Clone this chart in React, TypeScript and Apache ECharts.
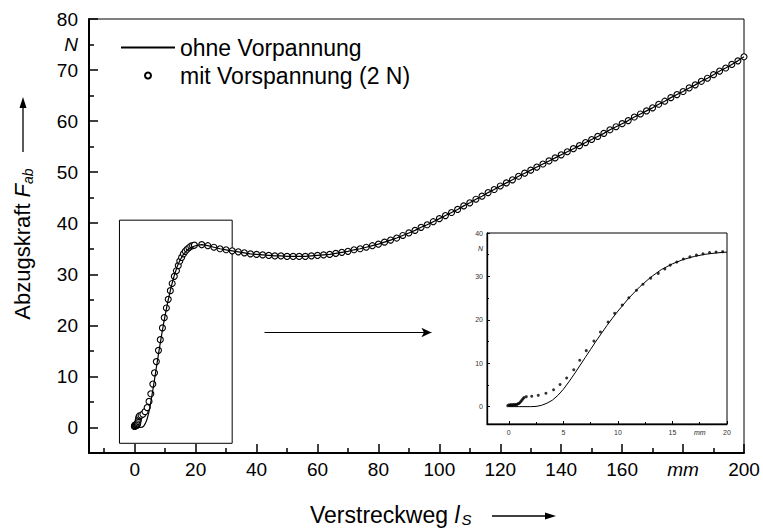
import React, { useEffect, useRef } from 'react';
import * as echarts from 'echarts';

// "ohne Vorpannung" (line) – rising part, mm / N
const riseLineX = [0, 1, 2, 2.5, 3, 3.5, 4, 4.5, 5, 5.5, 6, 6.5, 7, 7.5, 8, 8.5, 9, 9.5, 10, 11, 12, 13, 14, 15, 16, 17, 18, 19, 20];
const riseLineY = [0, 0, 0, 0.05, 0.3, 0.8, 1.5, 2.6, 4.0, 5.7, 7.5, 9.4, 11.3, 13.2, 15.1, 16.9, 18.7, 20.4, 22, 25, 27.6, 29.8, 31.6, 32.9, 33.9, 34.6, 35.1, 35.4, 35.6];

// "mit Vorspannung (2 N)" (circles) – rising part
const riseDotX = [-0.1, 0, 0.1, 0.2, 0.3, 0.4, 0.5, 0.6, 0.7, 0.8, 0.9, 1.0, 1.1, 1.2, 1.3, 1.4,
  1.6, 2.1, 2.7, 3.4, 4.1, 4.7, 5.3, 5.95, 6.5, 7.1, 7.8, 8.4, 9.1, 9.7, 10.4, 11.0, 11.7, 12.3, 13.0, 13.7, 14.3, 14.8, 15.4, 16.0, 16.6, 17.2, 17.8, 18.4, 19.0, 19.6];
const riseDotY = [0.2, 0.4, 0.3, 0.5, 0.3, 0.5, 0.4, 0.5, 0.4, 0.6, 0.7, 0.9, 1.2, 1.5, 1.8, 2.1,
  2.3, 2.4, 2.6, 3.1, 3.9, 5.1, 6.6, 8.5, 10.7, 12.9, 15.1, 17.2, 19.5, 21.5, 23.4, 25.1, 26.8, 28.2, 29.6, 30.7, 31.7, 32.6, 33.3, 34.0, 34.5, 34.9, 35.2, 35.5, 35.6, 35.7];

// common part of both curves after the maximum
const tailX = [22, 24, 26, 28, 30, 32, 34, 36, 38, 40, 42, 44, 46, 48, 50, 52, 54, 56, 58, 60,
  62, 64, 66, 68, 70, 72, 74, 76, 78, 80, 82, 84, 86, 88, 90, 92, 94, 96, 98, 100,
  102, 104, 106, 108, 110, 112, 114, 116, 118, 120, 122, 124, 126, 128, 130, 132, 134, 136, 138, 140,
  142, 144, 146, 148, 150, 152, 154, 156, 158, 160, 162, 164, 166, 168, 170, 172, 174, 176, 178, 180,
  182, 184, 186, 188, 190, 192, 194, 196, 198, 200];
const tailY = [35.8, 35.6, 35.3, 35.0, 34.8, 34.6, 34.4, 34.2, 34.0, 33.9, 33.8, 33.7, 33.6, 33.6, 33.5, 33.5, 33.5, 33.5, 33.6, 33.7,
  33.8, 33.9, 34.1, 34.3, 34.5, 34.8, 35.0, 35.3, 35.6, 35.9, 36.3, 36.7, 37.1, 37.6, 38.1, 38.6, 39.2, 39.7, 40.3, 40.9,
  41.5, 42.1, 42.7, 43.4, 44.0, 44.7, 45.3, 46.0, 46.6, 47.3, 47.9, 48.5, 49.2, 49.8, 50.4, 51.0, 51.6, 52.2, 52.8, 53.4,
  54.0, 54.6, 55.2, 55.8, 56.4, 57.0, 57.6, 58.3, 58.9, 59.5, 60.1, 60.8, 61.4, 62.0, 62.6, 63.3, 63.9, 64.6, 65.2, 65.8,
  66.5, 67.1, 67.8, 68.4, 69.1, 69.8, 70.4, 71.1, 71.8, 72.6];

// zoom box and arrow (data coordinates)
const boxCorners = [[-5, 40.6], [32, -3.1]];
const arrowEnds = [[42.6, 18.6], [97.4, 18.6]];

const FONT = '"Liberation Sans", Arial, Helvetica, sans-serif';
const zip = (xs: number[], ys: number[]) => xs.map((x, i) => [x, ys[i]]);

export default function App() {
  const ref = useRef<HTMLDivElement>(null);
  useEffect(() => {
    const chart = echarts.init(ref.current!, null, { renderer: 'svg' });
    const lineData = zip(riseLineX, riseLineY).concat(zip(tailX, tailY));
    const dotData = zip(riseDotX, riseDotY).concat(zip(tailX, tailY));
    const mainAxisCommon = {
      axisLine: { show: true, onZero: false, lineStyle: { color: '#000', width: 2 } },
      axisTick: { show: true, inside: true, length: 9, lineStyle: { color: '#000', width: 1.5 } },
      minorTick: { show: true, splitNumber: 2, length: 5, lineStyle: { color: '#000', width: 1.5 } },
      splitLine: { show: false },
      minorSplitLine: { show: false },
    };
    const insetAxisCommon = {
      axisLine: { show: true, onZero: false, lineStyle: { color: '#000', width: 1.3 } },
      axisTick: { show: true, inside: true, length: 3, lineStyle: { color: '#000', width: 1 } },
      minorTick: { show: true, splitNumber: 2, length: 2, lineStyle: { color: '#000', width: 1 } },
      splitLine: { show: false },
    };
    chart.setOption({
      animation: false,
      backgroundColor: '#fff',
      legend: {
        orient: 'vertical',
        left: 115,
        top: 31,
        itemWidth: 54,
        itemHeight: 6,
        itemGap: 5,
        selectedMode: false,
        textStyle: { fontSize: 23, color: '#000', fontFamily: FONT },
        data: [
          { name: 'ohne Vorpannung', itemStyle: { opacity: 0 } },
          { name: 'mit Vorspannung (2 N)' },
        ],
      },
      grid: [
        { left: 89, top: 19, right: 19, bottom: 76, show: true, borderColor: '#000', borderWidth: 1, backgroundColor: 'transparent' },
        { left: 487, top: 233, width: 240, height: 191, show: true, borderColor: '#000', borderWidth: 1, backgroundColor: 'transparent' },
      ],
      xAxis: [
        {
          type: 'value', gridIndex: 0, min: -15, max: 200, splitNumber: 10,
          ...mainAxisCommon,
          axisLabel: {
            margin: 7, fontSize: 19, color: '#000', fontFamily: FONT,
            formatter: (v: number) => (v === 180 ? '{i|mm}' : v < 0 ? '' : String(v)),
            rich: { i: { fontStyle: 'italic', fontSize: 19, fontFamily: FONT, color: '#000' } },
          },
        },
        {
          type: 'value', gridIndex: 1, min: -2, max: 20, splitNumber: 4,
          ...insetAxisCommon,
          axisLabel: { margin: 5, fontSize: 7, color: '#333', fontFamily: FONT, formatter: (v: number) => (v < 0 ? '' : String(v)) },
        },
      ],
      yAxis: [
        {
          type: 'value', gridIndex: 0, min: -5, max: 80, splitNumber: 8,
          ...mainAxisCommon,
          axisLabel: { margin: 11, fontSize: 19, color: '#000', fontFamily: FONT, formatter: (v: number) => (v < 0 ? '' : String(v)) },
        },
        {
          type: 'value', gridIndex: 1, min: -4, max: 40, splitNumber: 4,
          ...insetAxisCommon,
          axisLabel: { margin: 4, fontSize: 7, color: '#333', fontFamily: FONT, formatter: (v: number) => (v < 0 ? '' : String(v)) },
        },
      ],
      series: [
        {
          name: 'ohne Vorpannung', type: 'line', xAxisIndex: 0, yAxisIndex: 0,
          data: lineData, symbol: 'none', showSymbol: false,
          lineStyle: { color: '#000', width: 1.2 }, itemStyle: { color: '#000' },
          markArea: {
            silent: true,
            label: { show: false },
            itemStyle: { color: 'rgba(0,0,0,0)', borderColor: '#000', borderWidth: 1 },
            data: [[{ coord: boxCorners[0] }, { coord: boxCorners[1] }]],
          },
          markLine: {
            silent: true,
            symbol: ['none', 'arrow'],
            symbolSize: [7, 10],
            label: { show: false },
            lineStyle: { color: '#000', width: 1, type: 'solid' },
            data: [[{ coord: arrowEnds[0] }, { coord: arrowEnds[1] }]],
          },
        },
        {
          name: 'mit Vorspannung (2 N)', type: 'scatter', xAxisIndex: 0, yAxisIndex: 0,
          data: dotData, symbol: 'circle', symbolSize: 6,
          itemStyle: { color: '#fff', borderColor: '#000', borderWidth: 1.1, opacity: 1 },
        },
        {
          name: 'inset-line', type: 'line', xAxisIndex: 1, yAxisIndex: 1,
          data: zip(riseLineX, riseLineY), symbol: 'none', showSymbol: false,
          lineStyle: { color: '#000', width: 1 },
        },
        {
          name: 'inset-dots', type: 'scatter', xAxisIndex: 1, yAxisIndex: 1,
          data: zip(riseDotX, riseDotY), symbol: 'circle', symbolSize: 3,
          itemStyle: { color: '#000' },
        },
      ],
    });

    const nMain = chart.convertToPixel({ yAxisIndex: 0 }, 75) as number;
    const nInset = chart.convertToPixel({ yAxisIndex: 1 }, 36.5) as number;
    const mmInset = chart.convertToPixel({ xAxisIndex: 1 }, 17.5) as number;

    chart.setOption({
      graphic: [
        { type: 'text', id: 'nMain', x: 78, y: nMain, style: { text: 'N', fontSize: 19, fontStyle: 'italic', fontFamily: FONT, fill: '#000', align: 'right', verticalAlign: 'middle' } },
        { type: 'text', id: 'nInset', x: 483, y: nInset, style: { text: 'N', fontSize: 7, fontStyle: 'italic', fontFamily: FONT, fill: '#222', align: 'right', verticalAlign: 'middle' } },
        { type: 'text', id: 'mmInset', x: mmInset, y: 429, style: { text: 'mm', fontSize: 7, fontStyle: 'italic', fontFamily: FONT, fill: '#222', align: 'center', verticalAlign: 'top' } },
        {
          type: 'text', id: 'xTitle', x: 310, y: 515,
          style: {
            text: '{n|Verstreckweg }{i|l}{s|S}', align: 'left', verticalAlign: 'middle',
            rich: {
              n: { fontSize: 23, fontFamily: FONT, fill: '#000' },
              i: { fontSize: 23, fontStyle: 'italic', fontFamily: FONT, fill: '#000' },
              s: { fontSize: 15, fontStyle: 'italic', fontFamily: FONT, fill: '#000', padding: [8, 0, 0, 2] },
            },
          },
        },
        { type: 'line', id: 'xArrowLine', shape: { x1: 492, y1: 516, x2: 548, y2: 516 }, style: { stroke: '#000', lineWidth: 1.3 } },
        { type: 'polygon', id: 'xArrowHead', shape: { points: [[556, 516], [545, 512.5], [545, 519.5]] }, style: { fill: '#000' } },
        {
          type: 'text', id: 'yTitle', x: 22, y: 244, rotation: Math.PI / 2,
          style: {
            text: '{n|Abzugskraft }{i|F}{s|ab}', align: 'center', verticalAlign: 'middle',
            rich: {
              n: { fontSize: 22, fontFamily: FONT, fill: '#000' },
              i: { fontSize: 22, fontStyle: 'italic', fontFamily: FONT, fill: '#000' },
              s: { fontSize: 14, fontStyle: 'italic', fontFamily: FONT, fill: '#000', padding: [12, 0, 0, 0] },
            },
          },
        },
        { type: 'line', id: 'yArrowLine', shape: { x1: 23, y1: 152, x2: 23, y2: 106 }, style: { stroke: '#000', lineWidth: 1.3 } },
        { type: 'polygon', id: 'yArrowHead', shape: { points: [[23, 97], [19.5, 108], [26.5, 108]] }, style: { fill: '#000' } },
      ],
    });
    return () => chart.dispose();
  }, []);
  return <div ref={ref} style={{ position: 'fixed', left: 0, top: 0, width: 763, height: 529, background: '#fff' }} />;
}
